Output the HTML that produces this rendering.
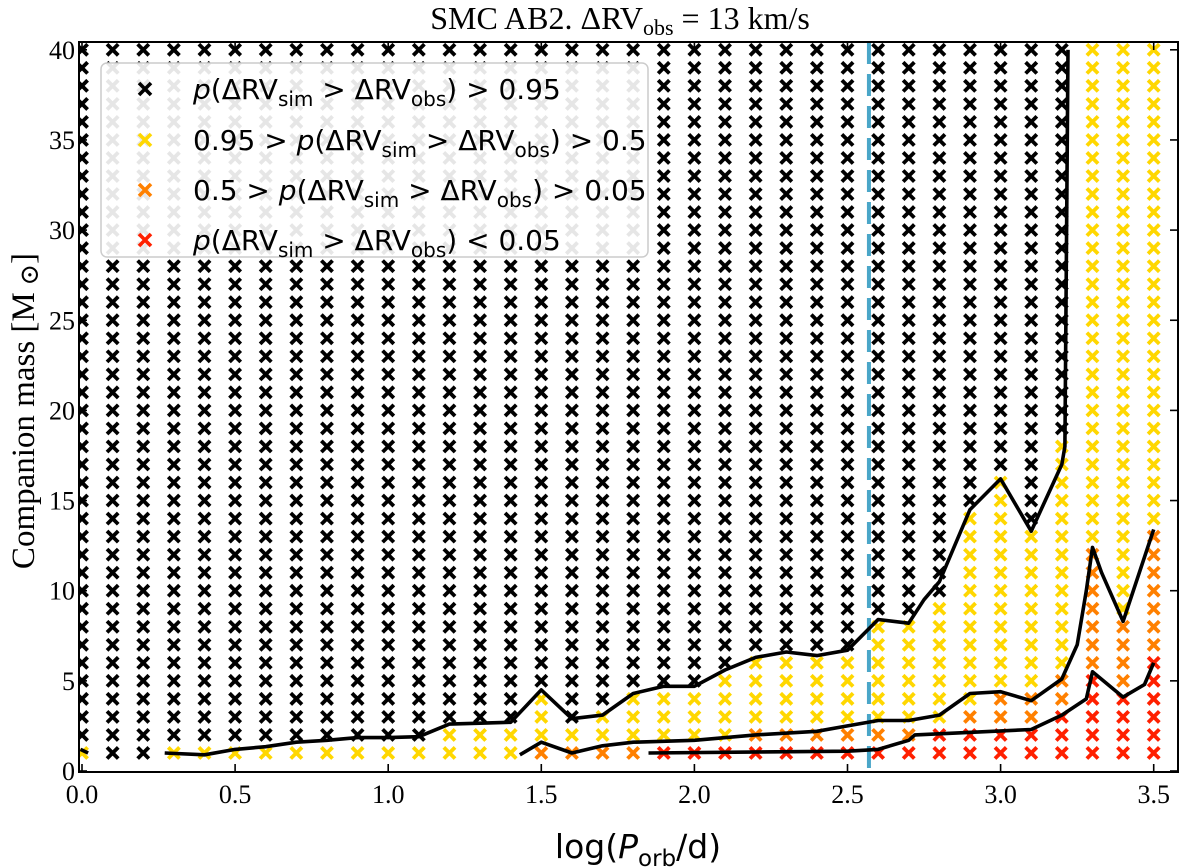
<!DOCTYPE html>
<html><head><meta charset="utf-8"><style>
body{margin:0;background:#fff}
svg{display:block}
.serif{font-family:"Liberation Serif","DejaVu Serif",serif}
.sans{font-family:"DejaVu Sans","Liberation Sans",sans-serif}
</style></head><body>
<svg id="c" width="1200" height="868" viewBox="0 0 1200 868" xmlns="http://www.w3.org/2000/svg"></svg>
<script>
// ---- data ----
const periods = [0.0,0.1,0.2,0.3,0.4,0.5,0.6,0.7,0.8,0.9,1.0,1.1,1.2,1.3,1.4,1.5,1.6,1.7,1.8,1.9,2.0,2.1,2.2,2.3,2.4,2.5,2.6,2.7,2.8,2.9,3.0,3.1,3.2,3.3,3.4,3.5];
const masses = [1,2,3,4,5,6,7,8,9,10,11,12,13,14,15,16,17,18,19,20,21,22,23,24,25,26,27,28,29,30,31,32,33,34,35,36,37,38,39,40];
// number of rows (from bottom) in each class per column
const redCount    = [0,0,0,0,0,0,0,0,0,0,0,0,0,0,0,0,0,0,0,1,1,1,1,1,1,1,1,1,2,2,2,2,3,5,4,6];
const orangeCount = [0,0,0,0,0,0,0,0,0,0,0,0,0,0,0,1,1,1,1,0,0,0,1,1,1,1,1,1,0,1,2,2,2,7,4,7];
const yellowCount = [1,0,0,1,1,1,1,1,1,1,1,1,2,2,2,3,1,2,3,3,3,4,4,4,4,4,6,6,7,11,12,9,13,28,32,27];
// contour lines
const c1x = [0.27,0.4,0.5,0.6,0.7,0.8,0.9,1.0,1.1,1.2,1.3,1.4,1.5,1.6,1.7,1.8,1.9,2.0,2.1,2.2,2.3,2.4,2.5,2.6,2.7,2.75,2.8,2.85,2.9,3.0,3.1,3.2,3.21,3.22];
const c1y = [1.0,0.9,1.2,1.35,1.6,1.7,1.85,1.85,1.9,2.6,2.65,2.7,4.5,2.9,3.1,4.3,4.7,4.7,5.6,6.3,6.6,6.4,6.7,8.4,8.2,9.5,10.5,12.5,14.5,16.2,13.3,17,18,40];
const c0x = [-0.005,0.02];
const c0y = [1.2,1.0];
const c2x = [1.43,1.5,1.6,1.7,1.8,2.0,2.2,2.4,2.5,2.6,2.7,2.8,2.9,3.0,3.1,3.2,3.25,3.28,3.3,3.33,3.4,3.5];
const c2y = [0.9,1.6,1.0,1.4,1.6,1.7,2.0,2.2,2.5,2.8,2.8,3.1,4.3,4.4,3.9,5.1,7,10,12.4,11,8.3,13.4];
const c3x = [1.85,2.5,2.6,2.7,2.72,3.1,3.2,3.28,3.3,3.4,3.47,3.5];
const c3y = [1.0,1.1,1.2,1.7,2.0,2.3,3.1,4.0,5.5,4.1,4.8,6.0];
const obsLine = 2.57;
const xTicks = [0.0,0.5,1.0,1.5,2.0,2.5,3.0,3.5];
const xTickLabels = ["0.0","0.5","1.0","1.5","2.0","2.5","3.0","3.5"];
const yTicks = [0,5,10,15,20,25,30,35,40];
const yTickLabels = ["0","5","10","15","20","25","30","35","40"];

// ---- layout ----
const L=79,R=1178,T=42,B=772;
const X=v=>82+v*306.2;
const Y=v=>771-v*18.03;
const NS="http://www.w3.org/2000/svg";
const svg=document.getElementById('c');
function mk(tag,attrs,parent){const e=document.createElementNS(NS,tag);for(const k in attrs)e.setAttribute(k,attrs[k]);(parent||svg).appendChild(e);return e;}

const defs=mk('defs',{});
const cp=mk('clipPath',{id:'clip'},defs);
mk('rect',{x:L,y:T,width:R-L,height:B-T},cp);

const plot=mk('g',{'clip-path':'url(#clip)'});



const COL={black:'#000',yellow:'#FFD700',orange:'#FF8000',red:'#FF2000'};
function cross(g,cx,cy,color,s){
  const p=mk('path',{d:`M${cx-s},${cy-s}L${cx+s},${cy+s}M${cx-s},${cy+s}L${cx+s},${cy-s}`,stroke:color,'stroke-width':3.8,fill:'none'},g);
  return p;
}
periods.forEach((p,i)=>{
  const g=mk('g',{},plot);
  
  
  masses.forEach((m,j)=>{
    let c;
    if(j<redCount[i]) c=COL.red;
    else if(j<redCount[i]+orangeCount[i]) c=COL.orange;
    else if(j<redCount[i]+orangeCount[i]+yellowCount[i]) c=COL.yellow;
    else c=COL.black;
    const e=cross(g,X(p),Y(m),c,5.6);
    
    
  });
});
const ol=mk('line',{x1:X(obsLine),x2:X(obsLine),y1:T,y2:B,stroke:'#4aa6c8','stroke-width':4,'stroke-dasharray':'22,10'},plot);


function poly(xs,ys,name){
  const d=xs.map((x,i)=>(i?'L':'M')+X(x).toFixed(1)+','+Y(ys[i]).toFixed(1)).join('');
  const e=mk('path',{d,stroke:'#000','stroke-width':3.6,fill:'none','stroke-linejoin':'round'},plot);
  
  
}
poly(c0x,c0y,'contour-095-edge');
poly(c1x,c1y,'contour-095');
poly(c2x,c2y,'contour-05');
poly(c3x,c3y,'contour-005');

const fr=mk('rect',{x:L,y:T,width:R-L,height:B-T,fill:'none',stroke:'#000','stroke-width':2});



xTicks.forEach((v,i)=>{
  const x=X(v);
  mk('line',{x1:x,x2:x,y1:B,y2:B-8,stroke:'#000','stroke-width':1.6});
  mk('line',{x1:x,x2:x,y1:T,y2:T+8,stroke:'#000','stroke-width':1.6});
  const t=mk('text',{x:x,y:B+31,'text-anchor':'middle','font-size':26,class:'serif'});
  t.textContent=xTickLabels[i];
  
  
});
yTicks.forEach((v,i)=>{
  const y=Y(v);
  mk('line',{x1:L,x2:L+8,y1:y,y2:y,stroke:'#000','stroke-width':1.6});
  mk('line',{x1:R,x2:R-8,y1:y,y2:y,stroke:'#000','stroke-width':1.6});
  const t=mk('text',{x:L-4,y:y+9,'text-anchor':'end','font-size':26,class:'serif'});
  t.textContent=yTickLabels[i];
  
  
});
</script>
<svg width="1200" height="868" style="position:absolute;left:0;top:0" xmlns="http://www.w3.org/2000/svg">
  <text x="620" y="29" text-anchor="middle" font-size="32" class="serif">SMC AB2. ΔRV<tspan font-size="22" dy="6">obs</tspan><tspan dy="-6"> = 13 km/s</tspan></text>
  <text transform="translate(34,411) rotate(-90)" text-anchor="middle" font-size="33" class="serif">Companion mass [M<tspan font-size="26" dy="4"> ⊙</tspan><tspan dy="-4">]</tspan></text>
  <text x="638" y="858" text-anchor="middle" font-size="33" class="sans">log(<tspan font-style="italic">P</tspan><tspan font-size="23" dy="8">orb</tspan><tspan dy="-8">/d)</tspan></text>
  <g>
    <rect x="101" y="63" width="547" height="194" rx="6" fill="#fff" fill-opacity="0.9" stroke="#ccc" stroke-width="1.5"/>
    <g>
      <path d="M139,83L151,95M139,95L151,83" stroke="#000" stroke-width="3.6"/>
      <text x="193" y="99" font-size="28" class="sans"><tspan font-style="italic">p</tspan>(ΔRV<tspan font-size="20" dy="7">sim</tspan><tspan dy="-7"> &gt; ΔRV</tspan><tspan font-size="20" dy="7">obs</tspan><tspan dy="-7">) &gt; 0.95</tspan></text>
    </g>
    <g>
      <path d="M139,134L151,146M139,146L151,134" stroke="#FFD700" stroke-width="3.6"/>
      <text x="193" y="150" font-size="28" class="sans">0.95 &gt; <tspan font-style="italic">p</tspan>(ΔRV<tspan font-size="20" dy="7">sim</tspan><tspan dy="-7"> &gt; ΔRV</tspan><tspan font-size="20" dy="7">obs</tspan><tspan dy="-7">) &gt; 0.5</tspan></text>
    </g>
    <g>
      <path d="M139,184L151,196M139,196L151,184" stroke="#FF8000" stroke-width="3.6"/>
      <text x="193" y="200" font-size="28" class="sans">0.5 &gt; <tspan font-style="italic">p</tspan>(ΔRV<tspan font-size="20" dy="7">sim</tspan><tspan dy="-7"> &gt; ΔRV</tspan><tspan font-size="20" dy="7">obs</tspan><tspan dy="-7">) &gt; 0.05</tspan></text>
    </g>
    <g>
      <path d="M139,234L151,246M139,246L151,234" stroke="#FF2000" stroke-width="3.6"/>
      <text x="193" y="250" font-size="28" class="sans"><tspan font-style="italic">p</tspan>(ΔRV<tspan font-size="20" dy="7">sim</tspan><tspan dy="-7"> &gt; ΔRV</tspan><tspan font-size="20" dy="7">obs</tspan><tspan dy="-7">) &lt; 0.05</tspan></text>
    </g>
  </g>
</svg>
</body></html>
